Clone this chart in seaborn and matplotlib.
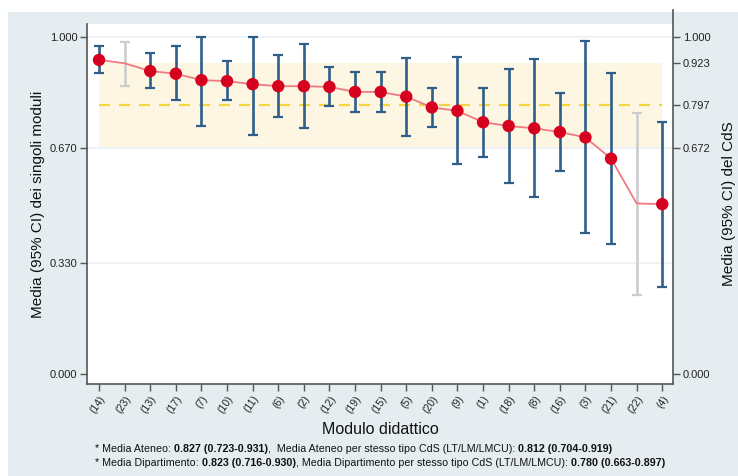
import numpy as np
import pandas as pd
import matplotlib
matplotlib.use("Agg")
import matplotlib.pyplot as plt
import seaborn as sns

# Dati
moduli = ["(14)", "(23)", "(13)", "(17)", "(7)", "(10)", "(11)", "(6)", "(2)", "(12)",
          "(19)", "(15)", "(5)", "(20)", "(9)", "(1)", "(18)", "(8)", "(16)", "(3)",
          "(21)", "(22)", "(4)"]
media = [0.932, 0.922, 0.899, 0.891, 0.872, 0.869, 0.860, 0.854, 0.854, 0.852,
         0.837, 0.837, 0.823, 0.791, 0.781, 0.747, 0.736, 0.729, 0.718, 0.702,
         0.639, 0.506, 0.504]
ci_basso = [0.892, 0.855, 0.848, 0.812, 0.737, 0.813, 0.708, 0.764, 0.729, 0.795,
            0.778, 0.778, 0.707, 0.734, 0.622, 0.645, 0.568, 0.525, 0.602, 0.417,
            0.385, 0.235, 0.258]
ci_alto = [0.973, 0.985, 0.952, 0.972, 1.000, 0.928, 1.000, 0.947, 0.980, 0.910,
           0.897, 0.897, 0.939, 0.850, 0.942, 0.850, 0.906, 0.934, 0.835, 0.988,
           0.894, 0.775, 0.747]
# moduli con pochi rispondenti (in grigio)
escluso = [False, True] + [False] * 19 + [True, False]

# Media del CdS e intervallo
cds_media = 0.797
cds_basso = 0.672
cds_alto = 0.923
tick_sx = [0.000, 0.330, 0.670, 1.000]

note = [
    [("* Media Ateneo: ", "normal"), ("0.827 (0.723-0.931)", "bold"),
     (",  Media Ateneo per stesso tipo CdS (LT/LM/LMCU): ", "normal"),
     ("0.812 (0.704-0.919)", "bold")],
    [("* Media Dipartimento: ", "normal"), ("0.823 (0.716-0.930)", "bold"),
     (", Media Dipartimento per stesso tipo CdS (LT/LM/LMCU): ", "normal"),
     ("0.780 (0.663-0.897)", "bold")],
]

df = pd.DataFrame({"pos": np.arange(len(moduli)), "modulo": moduli, "media": media,
                   "basso": ci_basso, "alto": ci_alto, "escluso": escluso})

sns.set_theme(style="white")
plt.rcParams["font.family"] = ["Liberation Sans", "DejaVu Sans"]

sfondo = "#E5EDF0"
fig = plt.figure(figsize=(7.38, 4.76), dpi=100, facecolor="white")
fig.patches.append(plt.Rectangle((8 / 738, 0), 1, 1 - 12 / 476, transform=fig.transFigure,
                                 facecolor=sfondo, edgecolor="none", zorder=-10))
ax = fig.add_axes([87 / 738, 1 - 384 / 476, (673 - 87) / 738, (384 - 24) / 476])
ax.set_facecolor("white")

ylim = (-0.0297, 1.0386)
xlim = (-0.47, 22.42)

# banda del CdS e media tratteggiata
x0, x1 = df["pos"].min(), df["pos"].max()
ax.fill_between([x0, x1], cds_basso, cds_alto, color="#FDF6E2", lw=0, zorder=0)
for t in tick_sx[1:]:
    ax.axhline(t, color="#E9F0F4", lw=1.2, zorder=0.5)
ax.plot([x0, x1], [cds_media, cds_media], color="#F5D63C", lw=1.6, ls=(0, (5, 4)), zorder=1)

# barre di errore
for grigio, col in [(False, "#2F5E8A"), (True, "#CDCDCD")]:
    sub = df[df["escluso"] == grigio]
    ax.errorbar(sub["pos"], sub["media"],
                yerr=[sub["media"] - sub["basso"], sub["alto"] - sub["media"]],
                fmt="none", ecolor=col, elinewidth=1.9, capsize=3.6, capthick=1.6, zorder=2)

sns.lineplot(data=df, x="pos", y="media", color="#F07A82", lw=1.3, ax=ax, zorder=3)
sns.scatterplot(data=df[~df["escluso"]], x="pos", y="media", color="#D6001F", s=80,
                edgecolor="none", ax=ax, zorder=4)

ax.set_xlim(*xlim)
ax.set_ylim(*ylim)
ax.set_xticks(df["pos"])
ax.set_xticklabels(moduli, rotation=55, ha="right", va="top", rotation_mode="anchor",
                   fontsize=7.5, color="#222222")
ax.set_yticks(tick_sx)
ax.set_yticklabels([f"{v:.3f}" for v in tick_sx], fontsize=8, color="#222222")
ax.tick_params(axis="both", direction="out", length=5, width=1, color="#555555", pad=2,
               bottom=True, left=True)
ax.set_xlabel("Modulo didattico", fontsize=11.5, labelpad=5, color="#111111")
ax.set_ylabel("Media (95% CI) dei singoli moduli", fontsize=11, labelpad=3, color="#111111")
for lato in ["left", "bottom"]:
    ax.spines[lato].set_color("#555555")
    ax.spines[lato].set_linewidth(1.2)
ax.spines["top"].set_visible(False)
ax.spines["right"].set_visible(False)

ax2 = ax.twinx()
ax2.set_ylim(*ylim)
tick_dx = [0.000, cds_basso, cds_media, cds_alto, 1.000]
ax2.set_yticks(tick_dx)
ax2.set_yticklabels([f"{v:.3f}" for v in tick_dx], fontsize=8, color="#222222")
ax2.tick_params(axis="y", direction="out", length=5, width=1, color="#555555", pad=2, right=True)
ax2.set_ylabel("Media (95% CI) del CdS", fontsize=11, labelpad=8, color="#111111")
for lato in ["top", "left", "bottom"]:
    ax2.spines[lato].set_visible(False)
ax2.spines["right"].set_color("#555555")
ax2.spines["right"].set_linewidth(1.2)
ax2.spines["right"].set_bounds(ylim[0], 1.08)

# note a piè di pagina con parti in grassetto
for i, riga in enumerate(note):
    y = 1 - (454 + i * 13.5) / 476
    t = fig.text(95 / 738, y, riga[0][0], fontsize=7.7, fontweight=riga[0][1], va="bottom",
                 family=["Liberation Sans Narrow", "Liberation Sans"], color="#111111")
    for testo, peso in riga[1:]:
        t = ax.annotate(testo, xy=(1, 0), xycoords=t, va="bottom", ha="left", fontsize=7.7,
                        fontweight=peso, annotation_clip=False, color="#111111",
                        family=["Liberation Sans Narrow", "Liberation Sans"])

fig.savefig("out.png", dpi=100, facecolor=fig.get_facecolor())
